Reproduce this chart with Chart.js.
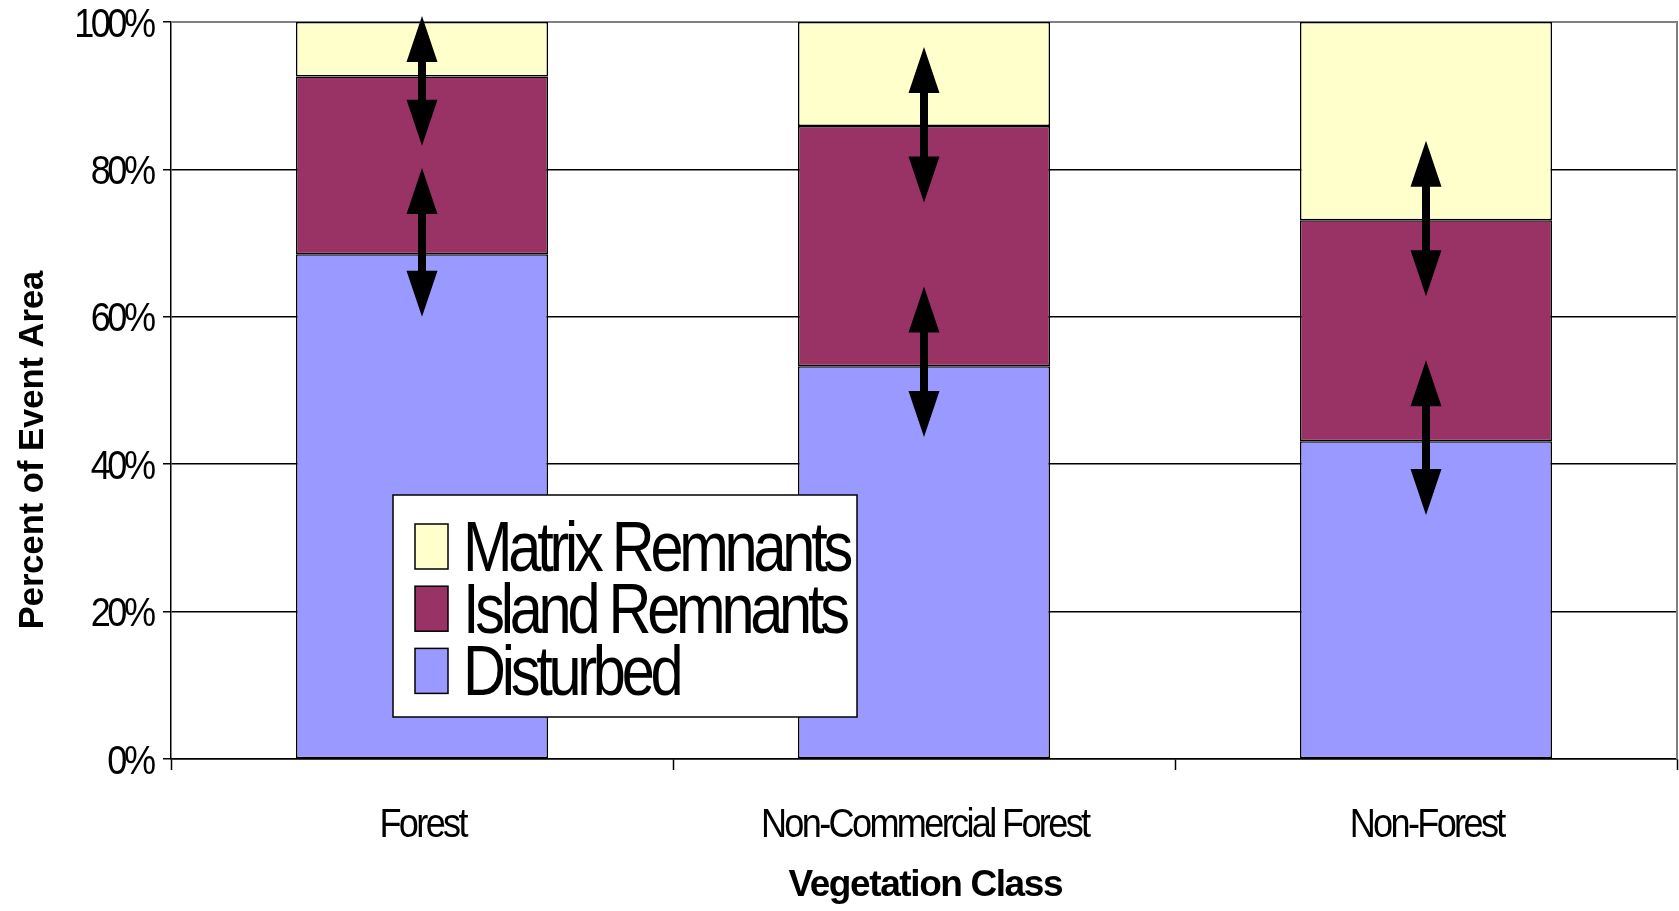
<!DOCTYPE html>
<html>
<head>
<meta charset="utf-8">
<script src="https://cdn.jsdelivr.net/npm/chart.js@4/dist/chart.umd.min.js"></script>
<style>
  html, body { margin: 0; padding: 0; background: #ffffff; }
  #wrap { width: 1679px; height: 911px; }
</style>
</head>
<body>
<div id="wrap"><canvas id="chart" width="1679" height="911"></canvas></div>
<script>
// Vegetation classes along the x axis
const categories = ['Forest', 'Non-Commercial Forest', 'Non-Forest'];

// Share of event area (%) per class, stacked bottom to top
const disturbed      = [68.5, 53.3, 43.1];
const islandRemnants = [24.1, 32.6, 30.0];
const matrixRemnants = [7.4, 14.1, 26.9];

// Double-headed range arrows (% of event area): upper and lower ranges per class
const upperRangeLow  = [83.2, 75.5, 62.8];
const upperRangeHigh = [100.8, 96.6, 83.9];
const lowerRangeLow  = [60.0, 43.7, 33.1];
const lowerRangeHigh = [80.2, 64.1, 54.1];

// Y axis ticks
const yTickValues = [0, 20, 40, 60, 80, 100];
const yTickLabels = ['0%', '20%', '40%', '60%', '80%', '100%'];

const xTitle = 'Vegetation Class';
const yTitle = 'Percent of Event Area';

const FONT = '"Liberation Sans", Arial, Helvetica, sans-serif';

// Draws narrow, tightly set text (condensed glyphs, negative tracking)
function drawText(ctx, text, x, y, opt) {
  ctx.save();
  ctx.translate(x, y);
  if (opt.rotate) ctx.rotate(opt.rotate);
  ctx.scale(opt.scaleX || 1, 1);
  ctx.font = opt.font;
  if ('letterSpacing' in ctx) ctx.letterSpacing = (opt.spacing || 0) + 'px';
  ctx.fillStyle = '#000';
  ctx.textAlign = opt.align || 'left';
  ctx.textBaseline = 'alphabetic';
  // keep centred/right-aligned text anchored despite trailing tracking
  let dx = 0;
  if (opt.spacing && opt.align === 'center') dx = -opt.spacing / 2;
  if (opt.spacing && opt.align === 'right') dx = -opt.spacing;
  ctx.fillText(text, -dx, 0);
  ctx.restore();
}

// Plot-area border on the top and right
const plotFrame = {
  id: 'plotFrame',
  beforeDatasetsDraw(chart) {
    const { ctx, chartArea: a } = chart;
    ctx.save();
    ctx.strokeStyle = '#808080';
    ctx.lineWidth = 2;
    ctx.beginPath();
    ctx.moveTo(a.left, a.top);
    ctx.lineTo(a.right, a.top);
    ctx.lineTo(a.right, a.bottom);
    ctx.stroke();
    ctx.restore();
  }
};

// Axis tick labels and titles
const axisText = {
  id: 'axisText',
  afterDraw(chart) {
    const { ctx, chartArea: a } = chart;
    const xs = chart.scales.x, ys = chart.scales.y;

    yTickValues.forEach((v, i) => {
      const py = ys.getPixelForValue(v);
      drawText(ctx, yTickLabels[i], a.left - 15, py + 14.5,
        { font: '41px ' + FONT, scaleX: 0.88, spacing: -4, align: 'right' });
    });

    categories.forEach((c, i) => {
      const px = xs.getPixelForValue(i);
      drawText(ctx, c, px + 2, a.bottom + 78,
        { font: '41px ' + FONT, scaleX: 0.88, spacing: -3, align: 'center' });
    });

    drawText(ctx, xTitle, (a.left + a.right) / 2 + 2, a.bottom + 137,
      { font: 'bold 37px ' + FONT, scaleX: 1, spacing: -1.4, align: 'center' });

    drawText(ctx, yTitle, 43, 450,
      { font: 'bold 34.5px ' + FONT, scaleX: 1, spacing: 0, align: 'center', rotate: -Math.PI / 2 });
  }
};

// Boxed legend inside the plot, top series listed first
const boxLegend = {
  id: 'boxLegend',
  afterDatasetsDraw(chart) {
    const ctx = chart.ctx;
    const box = { left: 393, top: 495, right: 857, bottom: 717 };
    ctx.save();
    ctx.fillStyle = '#ffffff';
    ctx.fillRect(box.left, box.top, box.right - box.left, box.bottom - box.top);
    ctx.strokeStyle = '#000';
    ctx.lineWidth = 1.5;
    ctx.strokeRect(box.left, box.top, box.right - box.left, box.bottom - box.top);
    const sets = chart.data.datasets.slice().reverse();
    sets.forEach((ds, i) => {
      const base = 571 + i * 62.2;
      ctx.fillStyle = ds.backgroundColor;
      ctx.fillRect(415, base - 47, 33, 45);
      ctx.strokeStyle = '#000';
      ctx.lineWidth = 1.5;
      ctx.strokeRect(415, base - 47, 33, 45);
      drawText(ctx, ds.label, 463, base, { font: '70px ' + FONT, scaleX: 0.85, spacing: -5, align: 'left' });
    });
    ctx.restore();
  }
};

// Double-headed arrows spanning each range
function drawArrow(ctx, x, yTop, yBottom) {
  const headW = 15.5, headL = 46, shaft = 4;
  ctx.beginPath();
  ctx.moveTo(x, yTop);
  ctx.lineTo(x + headW, yTop + headL);
  ctx.lineTo(x + shaft, yTop + headL);
  ctx.lineTo(x + shaft, yBottom - headL);
  ctx.lineTo(x + headW, yBottom - headL);
  ctx.lineTo(x, yBottom);
  ctx.lineTo(x - headW, yBottom - headL);
  ctx.lineTo(x - shaft, yBottom - headL);
  ctx.lineTo(x - shaft, yTop + headL);
  ctx.lineTo(x - headW, yTop + headL);
  ctx.closePath();
  ctx.fill();
}

const rangeArrows = {
  id: 'rangeArrows',
  afterDatasetsDraw(chart) {
    const ctx = chart.ctx;
    const xs = chart.scales.x, ys = chart.scales.y;
    ctx.save();
    ctx.fillStyle = '#000';
    categories.forEach((c, i) => {
      const px = xs.getPixelForValue(i);
      drawArrow(ctx, px, ys.getPixelForValue(upperRangeHigh[i]), ys.getPixelForValue(upperRangeLow[i]));
      drawArrow(ctx, px, ys.getPixelForValue(lowerRangeHigh[i]), ys.getPixelForValue(lowerRangeLow[i]));
    });
    ctx.restore();
  }
};

const barStyle = { borderColor: '#000000', borderWidth: 1.5, borderSkipped: false };

new Chart(document.getElementById('chart'), {
  type: 'bar',
  data: {
    labels: categories,
    datasets: [
      Object.assign({ label: 'Disturbed', data: disturbed, backgroundColor: '#9999FF' }, barStyle),
      Object.assign({ label: 'Island Remnants', data: islandRemnants, backgroundColor: '#993366' }, barStyle),
      Object.assign({ label: 'Matrix Remnants', data: matrixRemnants, backgroundColor: '#FFFFCC' }, barStyle)
    ]
  },
  options: {
    responsive: false,
    devicePixelRatio: 1,
    animation: false,
    layout: { padding: { top: 22, right: 2, left: 0, bottom: 0 } },
    datasets: { bar: { categoryPercentage: 1.0, barPercentage: 0.502 } },
    plugins: { legend: { display: false }, tooltip: { enabled: false } },
    scales: {
      x: {
        stacked: true,
        offset: true,
        grid: { offset: true, drawOnChartArea: false, drawTicks: true, tickLength: 11, tickColor: '#000', tickWidth: 1.5 },
        border: { color: '#000', width: 1.5 },
        ticks: { display: false },
        afterFit(scale) { scale.height = 152; }
      },
      y: {
        stacked: true,
        min: 0,
        max: 100,
        afterBuildTicks(scale) { scale.ticks = yTickValues.map(v => ({ value: v })); },
        grid: {
          color: (c) => (c.tick && c.tick.value === 100 ? '#808080' : '#000'),
          lineWidth: 1.5,
          tickLength: 8,
          tickColor: '#000',
          tickWidth: 1.5
        },
        border: { color: '#000', width: 1.5 },
        ticks: { display: false },
        afterFit(scale) { scale.width = 171; }
      }
    }
  },
  plugins: [plotFrame, boxLegend, rangeArrows, axisText]
});
</script>
</body>
</html>
